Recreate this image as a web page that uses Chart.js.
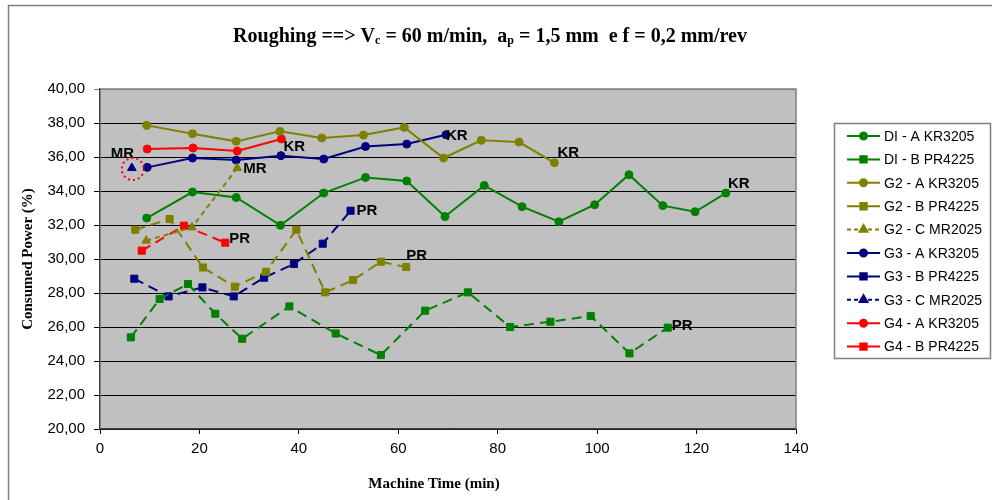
<!DOCTYPE html>
<html>
<head>
<meta charset="utf-8">
<script src="https://cdn.jsdelivr.net/npm/chart.js@4.4.1/dist/chart.umd.min.js"></script>
<style>
html, body { margin: 0; padding: 0; background: #fff; }
</style>
</head>
<body>
<canvas id="chart" width="992" height="500"></canvas>
<script>
// series names
var seriesNames = ['DI - A KR3205', 'DI - B PR4225', 'G2 - A KR3205', 'G2 - B PR4225', 'G2 - C MR2025',
                   'G3 - A KR3205', 'G3 - B PR4225', 'G3 - C MR2025', 'G4 - A KR3205', 'G4 - B PR4225'];
var endLabels = ['KR', 'PR', 'KR', 'PR', 'MR', 'KR', 'PR', 'MR', 'KR', 'PR'];

// machine time (min) / consumed power (%)
var diA_x = [9.4, 18.6, 27.4, 36.3, 45.0, 53.4, 61.7, 69.4, 77.3, 84.9, 92.3, 99.5, 106.4, 113.2, 119.7, 125.9];
var diA_y = [32.41, 33.94, 33.62, 31.98, 33.88, 34.80, 34.59, 32.50, 34.33, 33.08, 32.19, 33.19, 34.96, 33.14, 32.78, 33.88];
var diB_x = [6.2, 12.0, 17.7, 23.2, 28.6, 38.1, 47.4, 56.5, 65.4, 74.0, 82.5, 90.6, 98.7, 106.5, 114.2];
var diB_y = [25.39, 27.65, 28.53, 26.78, 25.31, 27.21, 25.62, 24.35, 26.96, 28.04, 26.00, 26.31, 26.65, 24.45, 25.96];
var g2A_x = [9.4, 18.6, 27.4, 36.2, 44.6, 53.0, 61.2, 69.1, 76.7, 84.3, 91.4];
var g2A_y = [37.86, 37.37, 36.92, 37.51, 37.12, 37.29, 37.74, 35.94, 36.98, 36.88, 35.66];
var g2B_x = [7.1, 14.0, 20.7, 27.1, 33.4, 39.5, 45.3, 50.9, 56.5, 61.6];
var g2B_y = [31.72, 32.35, 29.50, 28.37, 29.25, 31.72, 28.04, 28.76, 29.84, 29.53];
var g2C_x = [9.3, 18.5, 27.6];
var g2C_y = [31.08, 31.86, 35.35];
var g3A_x = [9.5, 18.6, 27.4, 36.4, 45.0, 53.4, 61.7, 69.6];
var g3A_y = [35.39, 35.94, 35.82, 36.08, 35.88, 36.62, 36.76, 37.31];
var g3B_x = [6.9, 13.8, 20.6, 26.9, 33.0, 39.0, 44.8, 50.4];
var g3B_y = [28.84, 27.80, 28.33, 27.80, 28.90, 29.71, 30.90, 32.84];
var g3C_x = [6.4];
var g3C_y = [35.35];
var g4A_x = [9.5, 18.7, 27.6, 36.5];
var g4A_y = [36.47, 36.53, 36.35, 37.06];
var g4B_x = [8.4, 16.9, 25.2];
var g4B_y = [30.49, 31.96, 30.96];

var xTicks = [0, 20, 40, 60, 80, 100, 120, 140];
var yTicks = [20, 22, 24, 26, 28, 30, 32, 34, 36, 38, 40];

var GREEN = '#008000', OLIVE = '#808000', NAVY = '#000080', RED = '#ff0000';

function pts(xs, ys) {
    return xs.map(function (x, i) { return { x: x, y: ys[i] }; });
}

function series(i, xs, ys, color, style, dash) {
    return {
        label: seriesNames[i],
        data: pts(xs, ys),
        borderColor: color,
        backgroundColor: color,
        borderWidth: 2,
        borderDash: dash || [],
        pointStyle: style,
        pointRadius: style === 'circle' ? 4 : 5,
        pointBorderWidth: 1,
        tension: 0
    };
}

var LONG = [10, 6], SHORT = [5, 4];

var datasets = [
    series(0, diA_x, diA_y, GREEN, 'circle'),
    series(1, diB_x, diB_y, GREEN, 'rect', LONG),
    series(2, g2A_x, g2A_y, OLIVE, 'circle'),
    series(3, g2B_x, g2B_y, OLIVE, 'rect', LONG),
    series(4, g2C_x, g2C_y, OLIVE, 'triangle', SHORT),
    series(5, g3A_x, g3A_y, NAVY, 'circle'),
    series(6, g3B_x, g3B_y, NAVY, 'rect', LONG),
    series(7, g3C_x, g3C_y, NAVY, 'triangle', SHORT),
    series(8, g4A_x, g4A_y, RED, 'circle'),
    series(9, g4B_x, g4B_y, RED, 'rect', LONG)
];

// where the KR/PR/MR tags sit relative to the last point
var labelOffsets = [[2, -9], [4, -2], [3, -10], [0, -11], [6, 1], [0, 1], [6, 0], [-21, -14], [2, 8], [4, -4]];

var plotBg = {
    id: 'plotBg',
    beforeDraw: function (chart) {
        var a = chart.chartArea, ctx = chart.ctx;
        ctx.save();
        ctx.fillStyle = '#c0c0c0';
        ctx.fillRect(a.left, a.top, a.right - a.left, a.bottom - a.top);
        ctx.restore();
    }
};

var extras = {
    id: 'extras',
    afterDraw: function (chart) {
        var ctx = chart.ctx, a = chart.chartArea;
        ctx.save();

        // plot frame top/right
        ctx.strokeStyle = '#808080';
        ctx.lineWidth = 1.5;
        ctx.beginPath();
        ctx.moveTo(a.left, a.top);
        ctx.lineTo(a.right, a.top);
        ctx.lineTo(a.right, a.bottom);
        ctx.stroke();

        // outer border
        ctx.strokeRect(8.5, 5.5, 1000, 520);

        // title with subscripts
        var runs = [
            ['Roughing ==> V', false], ['c', true], [' = 60 m/min,  a', false], ['p', true],
            [' = 1,5 mm  e f = 0,2 mm/rev', false]
        ];
        var big = 'bold 20px "Liberation Serif"', small = 'bold 12px "Liberation Serif"';
        var w = 0;
        runs.forEach(function (r) { ctx.font = r[1] ? small : big; w += ctx.measureText(r[0]).width; });
        var tx = 490 - w / 2;
        ctx.fillStyle = '#000';
        ctx.textBaseline = 'alphabetic';
        ctx.textAlign = 'left';
        runs.forEach(function (r) {
            ctx.font = r[1] ? small : big;
            ctx.fillText(r[0], tx, r[1] ? 44 : 42);
            tx += ctx.measureText(r[0]).width;
        });

        // x axis title
        ctx.font = 'bold 15px "Liberation Serif"';
        ctx.textAlign = 'center';
        ctx.textBaseline = 'middle';
        ctx.fillText('Machine Time (min)', 434, 484);
        ctx.textAlign = 'left';

        // end tags
        ctx.font = 'bold 15px "Liberation Sans"';
        chart.data.datasets.forEach(function (ds, i) {
            var meta = chart.getDatasetMeta(i);
            var p = meta.data[meta.data.length - 1];
            ctx.fillText(endLabels[i], p.x + labelOffsets[i][0], p.y + labelOffsets[i][1]);
        });

        // red dotted circle round the lone G3 - C point
        var m7 = chart.getDatasetMeta(7).data[0];
        ctx.strokeStyle = RED;
        ctx.lineWidth = 2;
        ctx.setLineDash([2, 3]);
        ctx.beginPath();
        ctx.arc(m7.x + 1, m7.y + 1, 11, 0, Math.PI * 2);
        ctx.stroke();
        ctx.setLineDash([]);

        // legend box
        ctx.strokeStyle = '#808080';
        ctx.lineWidth = 1.5;
        ctx.strokeRect(834.5, 123.5, 156, 235);
        ctx.font = '14px "Liberation Sans"';
        chart.data.datasets.forEach(function (ds, i) {
            var y = 136 + i * 23.4;
            ctx.strokeStyle = ds.borderColor;
            ctx.fillStyle = ds.borderColor;
            ctx.lineWidth = 2;
            ctx.setLineDash(ds.borderDash === SHORT ? [4, 3] : []);
            ctx.beginPath();
            ctx.moveTo(847, y);
            ctx.lineTo(880, y);
            ctx.stroke();
            ctx.setLineDash([]);
            Chart.helpers.drawPoint(ctx, {
                pointStyle: ds.pointStyle, rotation: 0,
                radius: ds.pointStyle === 'circle' ? 3.5 : 4.5, borderWidth: 1
            }, 863.5, y);
            ctx.fillStyle = '#000';
            ctx.fillText(ds.label, 884, y + 1);
        });

        ctx.restore();
    }
};

var tickFont = { family: '"Liberation Sans"', size: 15 };

new Chart(document.getElementById('chart'), {
    type: 'line',
    data: { datasets: datasets },
    options: {
        responsive: false,
        animation: false,
        layout: { padding: { top: 89, right: 196, bottom: 0, left: 0 } },
        plugins: { legend: { display: false }, tooltip: { enabled: false } },
        scales: {
            x: {
                type: 'linear',
                min: 0, max: 140,
                afterBuildTicks: function (s) { s.ticks = xTicks.map(function (v) { return { value: v }; }); },
                afterFit: function (s) { s.height = 71; },
                grid: { drawOnChartArea: false, drawTicks: true, tickLength: 5, color: '#000' },
                border: { color: '#404040', width: 1.5 },
                ticks: { font: tickFont, color: '#000', padding: 6, maxRotation: 0 }
            },
            y: {
                min: 20, max: 40,
                afterBuildTicks: function (s) { s.ticks = yTicks.map(function (v) { return { value: v }; }); },
                afterFit: function (s) { s.width = 100; },
                grid: {
                    drawTicks: true, tickLength: 6, lineWidth: 1,
                    color: function (c) { return c.tick && c.tick.value === 40 ? '#808080' : '#000'; }
                },
                border: { color: '#404040', width: 1.5 },
                ticks: {
                    font: tickFont, color: '#000', padding: 9,
                    callback: function (v) { return v.toFixed(2).replace('.', ','); }
                },
                title: {
                    display: true, text: 'Consumed Power (%)', color: '#000',
                    font: { family: '"Liberation Serif"', size: 15, weight: 'bold' },
                    padding: { top: 19, bottom: 0 }
                }
            }
        }
    },
    plugins: [plotBg, extras]
});
</script>
</body>
</html>
